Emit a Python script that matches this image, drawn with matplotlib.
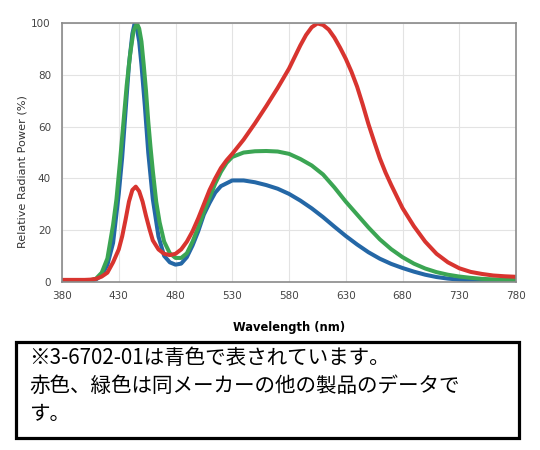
import matplotlib
matplotlib.use("Agg")
import matplotlib.pyplot as plt
from matplotlib.patches import Rectangle

# 読み取ったスペクトルデータ (波長 nm, 相対放射パワー %)
blue_wl = [380, 390, 400, 405, 410, 415, 420, 425, 430, 433, 436, 439, 442, 444,
           446, 448, 450, 453, 456, 460, 465, 470, 475, 480, 485, 490, 495, 500,
           505, 510, 515, 520, 530, 540, 550, 560, 570, 580, 590, 600, 610, 620,
           630, 640, 650, 660, 670, 680, 690, 700, 710, 720, 730, 740, 750, 760,
           770, 780]
blue_val = [0.2, 0.2, 0.3, 0.4, 0.9, 2.5, 6.5, 15, 34, 48, 66, 84, 96, 100,
            98, 93, 84, 68, 50, 32, 17.5, 10, 7.5, 6.6, 7, 9.5, 14, 19.5,
            26, 30.5, 34.5, 37, 39.2, 39.2, 38.5, 37.4, 36, 34, 31.4, 28.4, 25, 21.3,
            17.7, 14.4, 11.4, 8.9, 6.9, 5.3, 3.9, 2.7, 1.8, 1.2, 0.8, 0.55, 0.4, 0.3,
            0.25, 0.2]

green_wl = [380, 390, 400, 405, 410, 415, 420, 425, 428, 431, 434, 437, 440, 443,
            446, 448, 450, 452, 454, 456, 458, 460, 463, 466, 470, 475, 480, 485,
            490, 495, 500, 505, 510, 515, 520, 525, 530, 540, 550, 560, 570, 580,
            590, 600, 610, 620, 630, 640, 650, 660, 670, 680, 690, 700, 710, 720,
            730, 740, 750, 760, 770, 780]
green_val = [0.3, 0.3, 0.4, 0.5, 1.2, 3.5, 9, 22, 32, 46, 61, 76, 88, 97,
             100, 98, 93, 84, 74, 62, 52, 43, 31, 23, 15.5, 11, 9.2, 9.2,
             11, 15.5, 21, 27, 32.5, 38, 42.5, 46, 48.3, 50, 50.5, 50.6, 50.4, 49.5,
             47.5, 45, 41.5, 36.5, 31, 26, 21, 16.4, 12.6, 9.5, 7, 5.1, 3.7, 2.7,
             2, 1.5, 1.1, 0.9, 0.7, 0.6]

red_wl = [380, 390, 400, 405, 410, 415, 420, 425, 430, 433, 436, 439, 442, 445,
          448, 451, 454, 457, 460, 465, 470, 475, 480, 485, 490, 495, 500, 505,
          510, 515, 520, 525, 530, 540, 550, 560, 570, 580, 585, 590, 595, 600,
          605, 610, 615, 620, 625, 630, 635, 640, 645, 650, 655, 660, 665, 670,
          680, 690, 700, 710, 720, 730, 740, 750, 760, 770, 780]
red_val = [0.7, 0.7, 0.7, 0.8, 1.1, 2, 3.5, 7.5, 12.5, 17.5, 24, 31, 35.5, 36.8,
           35, 31, 25.5, 20.5, 16, 12.5, 10.8, 10.3, 10.8, 12.5, 15.5, 19.5, 24.5, 30,
           35.5, 40, 44, 47, 49.5, 55, 61.3, 68, 75, 82.5, 87, 91.5, 95.5, 98.5,
           100, 99.4, 97.6, 94.5, 90.6, 86.3, 81.3, 75.5, 68.5, 61, 54.3, 47.8, 42.3, 37.5,
           28.5, 21.5, 15.5, 10.8, 7.5, 5.2, 3.8, 3, 2.4, 2.1, 1.9]

x_ticks = [380, 430, 480, 530, 580, 630, 680, 730, 780]
y_ticks = [0, 20, 40, 60, 80, 100]

note_lines = ["※3-6702-01は青色で表されています。",
              "赤色、緑色は同メーカーの他の製品のデータで",
              "す。"]

fig = plt.figure(figsize=(5.4, 4.5), dpi=100)
ax = fig.add_axes([0.1148, 0.374, 0.8408, 0.574])

line_kw = dict(lw=2.9, solid_capstyle="round", solid_joinstyle="round")
ax.plot(blue_wl, blue_val, color="#2467a6", **line_kw)
ax.plot(green_wl, green_val, color="#3ba553", **line_kw)
ax.plot(red_wl, red_val, color="#d8342f", **line_kw)

ax.set_xlim(380, 780)
ax.set_ylim(0, 100)
ax.set_xticks(x_ticks)
ax.set_yticks(y_ticks)
ax.grid(True, color="#e3e3e3", lw=0.8)
ax.set_axisbelow(True)
ax.tick_params(length=0, labelsize=7.5, colors="#444444")
ax.tick_params(axis="x", pad=7)
ax.tick_params(axis="y", pad=8)
for s in ax.spines.values():
    s.set_color("#8a8a8a")
    s.set_linewidth(1.2)

ax.set_xlabel("Wavelength (nm)", fontsize=8.3, fontweight="bold", labelpad=14)
ax.set_ylabel("Relative Radiant Power (%)", fontsize=8.1, color="#333333")
ax.yaxis.set_label_coords(-0.077, 0.425)

# 注記ボックス
fig.patches.append(Rectangle((16 / 540, 12 / 450), 503 / 540, 96 / 450,
                             transform=fig.transFigure, fill=False,
                             edgecolor="black", lw=2.3))
for i, line in enumerate(note_lines):
    fig.text(29 / 540, 1 - (358 + i * 28) / 450, line, fontsize=14.8,
             va="center", ha="left",
             family=["Noto Sans CJK JP", "DejaVu Sans"])

plt.savefig("out.png", dpi=100)
plt.close()
